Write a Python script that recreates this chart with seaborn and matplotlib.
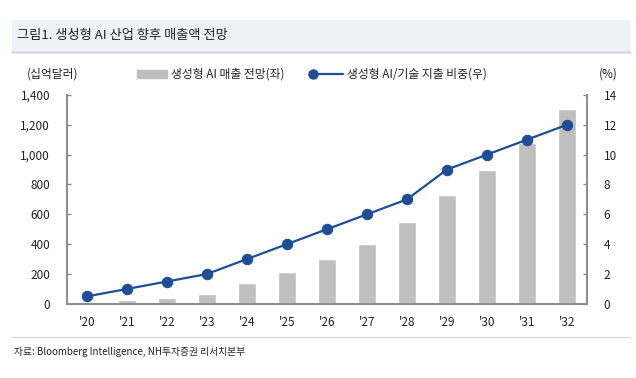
import numpy as np
import pandas as pd
import matplotlib
matplotlib.use("Agg")
import matplotlib.pyplot as plt
from matplotlib.patches import Rectangle
from matplotlib.lines import Line2D
from matplotlib.legend_handler import HandlerLine2D
import seaborn as sns

# data
years = ["'20", "'21", "'22", "'23", "'24", "'25", "'26", "'27", "'28", "'29", "'30", "'31", "'32"]
revenue = [14, 23, 40, 67, 137, 217, 304, 399, 548, 728, 897, 1079, 1304]   # 십억달러
share = [0.5, 1, 1.5, 2, 3, 4, 5, 6, 7, 9, 10, 11, 12]                      # %

bar_label = "생성형 AI 매출 전망(좌)"
line_label = "생성형 AI/기술 지출 비중(우)"

sns.set_theme(style="white")
plt.rcParams["font.family"] = ["Noto Sans CJK KR", "DejaVu Sans"]

BAR = "#BFBFBF"
LINE = "#1F4E96"
AXIS = "#8C8C8C"
TXT = "#222222"


class LeftMarker(HandlerLine2D):
    # legend line with the marker at its left end, like the original
    def create_artists(self, legend, orig_handle, xdescent, ydescent, width, height, fontsize, trans):
        arts = super().create_artists(legend, orig_handle, xdescent, ydescent, width, height, fontsize, trans)
        for a in arts:
            if a.get_markevery() is not None:
                a.set_markevery([0])
        return arts


df = pd.DataFrame({"year": years, "revenue": revenue, "share": share})

fig = plt.figure(figsize=(6.36, 3.78), dpi=100)
ax = fig.add_axes([0.105, 0.196, 0.818, 0.553])

sns.barplot(data=df, x="year", y="revenue", color=BAR, width=0.45,
            saturation=1, ax=ax)
ax2 = ax.twinx()
sns.lineplot(x=np.arange(len(years)), y=df["share"], color=LINE, lw=1.6,
             marker="o", markersize=7.5, markeredgecolor=LINE, ax=ax2)

ax.set_xlim(-0.5, len(years) - 0.5)
ax.set_ylim(0, 1400)
ax.set_yticks(range(0, 1401, 200))
ax.set_yticklabels([f"{v:,}" for v in range(0, 1401, 200)])
ax2.set_ylim(0, 14)
ax2.set_yticks(range(0, 15, 2))
ax.set_xlabel("")
ax.set_ylabel("")
ax2.set_ylabel("")

for a in (ax, ax2):
    a.spines["top"].set_visible(False)
    for s in ("left", "right", "bottom"):
        a.spines[s].set_color(AXIS)
        a.spines[s].set_linewidth(1.3)

ax.set_xticks(np.arange(len(years) - 1) + 0.5, minor=True)
ax.tick_params(axis="x", which="major", length=0, pad=9, labelsize=8.5, labelcolor=TXT)
ax.tick_params(axis="x", which="minor", direction="in", length=3, color=AXIS, width=1)
ax.tick_params(axis="y", direction="in", length=3, color=AXIS, width=1,
               pad=12, labelsize=8.5, labelcolor=TXT, left=True)
ax2.tick_params(axis="y", direction="in", length=3, color=AXIS, width=1,
                pad=12, labelsize=8.5, labelcolor=TXT, right=True)
ax2.set_xlim(-0.5, len(years) - 0.5)

# unit labels
fig.text(0.043, 0.803, "(십억달러)", fontsize=8.5, color=TXT, va="center")
fig.text(0.942, 0.803, "(%)", fontsize=8.5, color=TXT, va="center")

# legend
line_handle = Line2D([0], [0], color=LINE, lw=1.6, marker="o", markersize=6.5)
handles = [Rectangle((0, 0), 1, 1, color=BAR), line_handle]
fig.legend(handles, [bar_label, line_label], loc="center", bbox_to_anchor=(0.49, 0.803),
           ncol=2, frameon=False, fontsize=8.5, handlelength=2.6, columnspacing=2.4,
           handletextpad=0.3, labelcolor=TXT, numpoints=1,
           handler_map={line_handle: LeftMarker()})

# title bar
fig.patches.append(Rectangle((0.019, 0.862), 0.971, 0.085, transform=fig.transFigure,
                             facecolor="#EDF1F8", edgecolor="none", zorder=0))
fig.lines.append(Line2D([0.019, 0.99], [0.862, 0.862], transform=fig.transFigure,
                        color="#DADDE2", lw=2))
fig.text(0.027, 0.905, "그림1. 생성형 AI 산업 향후 매출액 전망", fontsize=9.5, color=TXT, va="center")

# footer
fig.lines.append(Line2D([0.019, 0.99], [0.108, 0.108], transform=fig.transFigure,
                        color="#D5D5D5", lw=0.8))
fig.text(0.022, 0.068, "자료: Bloomberg Intelligence, NH투자증권 리서치본부", fontsize=7,
         color=TXT, va="center")

fig.savefig("out.png", dpi=100, facecolor="white")
